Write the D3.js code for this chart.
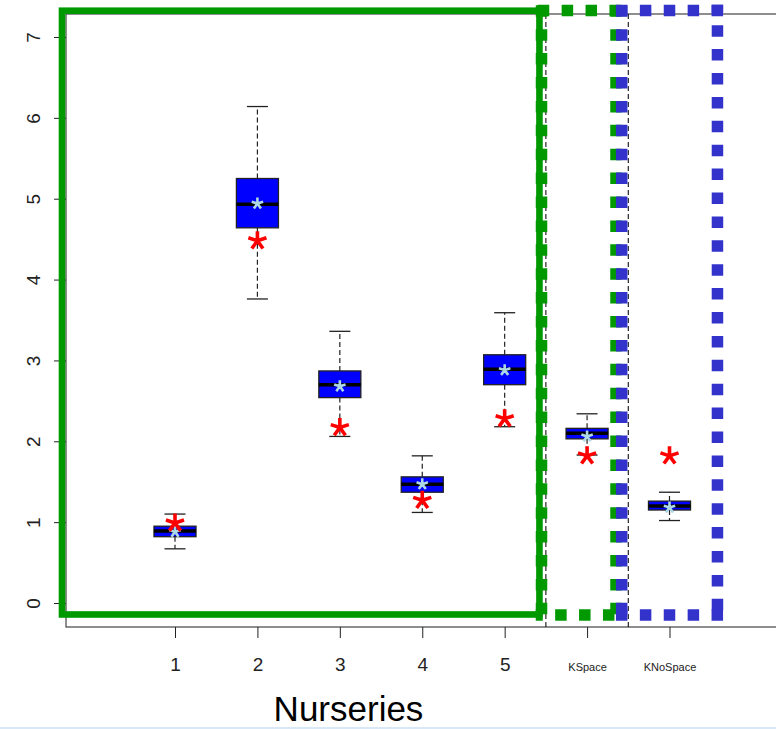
<!DOCTYPE html>
<html>
<head>
<meta charset="utf-8">
<script src="https://cdn.jsdelivr.net/npm/d3@7"></script>
<style>
	body { margin: 0; background: #fff; }
	svg { display: block; font-family: "Liberation Sans", Arial, sans-serif; }
</style>
</head>
<body>
<svg id="plot" width="776" height="729"></svg>
<script>

// values
const CATEGORIES = ['1', '2', '3', '4', '5', 'KSpace', 'KNoSpace'];
const WHISKER_LOW = [0.67, 3.76, 2.06, 1.12, 2.18, 1.83, 1.02];
const Q1 = [0.82, 4.64, 2.54, 1.37, 2.70, 2.03, 1.15];
const MEDIAN = [0.89, 4.93, 2.70, 1.47, 2.89, 2.10, 1.20];
const Q3 = [0.95, 5.25, 2.87, 1.56, 3.07, 2.16, 1.26];
const WHISKER_HIGH = [1.10, 6.14, 3.36, 1.82, 3.59, 2.34, 1.37];
const MEAN = [0.88, 4.94, 2.68, 1.47, 2.88, 2.06, 1.18];
const RED_POINT = [0.99, 4.48, 2.17, 1.27, 2.28, 1.82, 1.82];
const Y_TICKS = [0, 1, 2, 3, 4, 5, 6, 7];
const X_LABEL = 'Nurseries';

// group separators (between categories)
const SEPARATORS = [5.5, 6.5];

const PLOT = { left: 66, top: 14, bottom: 627, right: 800 };

const svg = d3.select('#plot');

const x = d3.scaleLinear().domain([1, 7]).range([175, 669.5]);
const y = d3.scaleLinear().domain([0, 7]).range([603, 37]);
const step = x(2) - x(1);
const boxW = step * 0.51;

const data = CATEGORIES.map((c, i) => ({
	name: c, pos: i + 1,
	lo: WHISKER_LOW[i], q1: Q1[i], med: MEDIAN[i], q3: Q3[i], hi: WHISKER_HIGH[i],
	mean: MEAN[i], red: RED_POINT[i]
}));

// frame
svg.append('rect')
	.attr('x', PLOT.left).attr('y', PLOT.top)
	.attr('width', PLOT.right - PLOT.left).attr('height', PLOT.bottom - PLOT.top)
	.attr('fill', 'none').attr('stroke', '#444').attr('stroke-width', 1.2);

// dashed separators
svg.append('g').selectAll('line')
	.data(SEPARATORS)
	.enter().append('line')
		.attr('x1', d => x(d)).attr('x2', d => x(d))
		.attr('y1', PLOT.top).attr('y2', PLOT.bottom)
		.attr('stroke', '#111').attr('stroke-width', 1.1)
		.attr('stroke-dasharray', '5 3');

// y axis
const yAxis = svg.append('g')
	.attr('transform', `translate(${PLOT.left},0)`)
	.call(d3.axisLeft(y).tickValues(Y_TICKS).tickSize(12).tickFormat(d3.format('d')));
yAxis.attr('font-size', 19).attr('font-family', null).attr('color', '#222');
yAxis.select('.domain').remove();
yAxis.selectAll('text')
	.attr('x', null).attr('dy', null)
	.attr('fill', '#222')
	.attr('text-anchor', 'middle')
	.attr('transform', 'translate(-26.5,0) rotate(-90)');

// x axis
const xAxis = svg.append('g')
	.attr('transform', `translate(0,${PLOT.bottom})`)
	.call(d3.axisBottom(x)
		.tickValues(d3.range(1, CATEGORIES.length + 1))
		.tickSize(11)
		.tickFormat(i => CATEGORIES[i - 1]));
xAxis.attr('font-family', null).attr('color', '#222');
xAxis.select('.domain').remove();
xAxis.selectAll('text')
	.attr('y', 44).attr('dy', null)
	.attr('fill', '#222')
	.attr('font-size', i => CATEGORIES[i - 1].length > 1 ? 11 : 19);

// boxes
const boxes = svg.append('g').selectAll('g')
	.data(data)
	.enter().append('g');

// whiskers (dashed)
boxes.append('line')
	.attr('x1', d => x(d.pos)).attr('x2', d => x(d.pos))
	.attr('y1', d => y(d.q3)).attr('y2', d => y(d.hi))
	.attr('stroke', '#222').attr('stroke-width', 1.2).attr('stroke-dasharray', '5 3');
boxes.append('line')
	.attr('x1', d => x(d.pos)).attr('x2', d => x(d.pos))
	.attr('y1', d => y(d.q1)).attr('y2', d => y(d.lo))
	.attr('stroke', '#222').attr('stroke-width', 1.2).attr('stroke-dasharray', '5 3');
// caps
['lo', 'hi'].forEach(k => {
	boxes.append('line')
		.attr('x1', d => x(d.pos) - boxW / 4).attr('x2', d => x(d.pos) + boxW / 4)
		.attr('y1', d => y(d[k])).attr('y2', d => y(d[k]))
		.attr('stroke', '#222').attr('stroke-width', 1.3);
});

boxes.append('rect')
	.attr('x', d => x(d.pos) - boxW / 2)
	.attr('y', d => y(d.q3))
	.attr('width', boxW)
	.attr('height', d => y(d.q1) - y(d.q3))
	.attr('fill', '#0000ff')
	.attr('stroke', '#222').attr('stroke-width', 1.3);

boxes.append('line')
	.attr('x1', d => x(d.pos) - boxW / 2).attr('x2', d => x(d.pos) + boxW / 2)
	.attr('y1', d => y(d.med)).attr('y2', d => y(d.med))
	.attr('stroke', '#000').attr('stroke-width', 3.5);

// 5-armed asterisk like the "*" glyph
const asterisk = {
	draw(ctx, size) {
		const r = Math.sqrt(size);
		for (let k = 0; k < 5; k++) {
			const a = -Math.PI / 2 + k * 2 * Math.PI / 5;
			ctx.moveTo(0, 0);
			ctx.lineTo(r * Math.cos(a), r * Math.sin(a));
		}
	}
};

boxes.append('path')
	.attr('d', d3.symbol().type(asterisk).size(6 * 6))
	.attr('transform', d => `translate(${x(d.pos)},${y(d.mean)})`)
	.attr('fill', 'none').attr('stroke', '#add8e6').attr('stroke-width', 2.6);

boxes.append('path')
	.attr('d', d3.symbol().type(asterisk).size(9.5 * 9.5))
	.attr('transform', d => `translate(${x(d.pos)},${y(d.red)})`)
	.attr('fill', 'none').attr('stroke', '#ff0000').attr('stroke-width', 3.6);

// highlight rectangles, extents in data units
const GREEN = '#009900';
const BLUE = '#3333cc';

svg.append('rect')
	.attr('x', x(-0.371)).attr('y', y(7.325))
	.attr('width', x(5.422) - x(-0.371))
	.attr('height', y(-0.142) - y(7.325))
	.attr('fill', 'none').attr('stroke', GREEN).attr('stroke-width', 6.6);

// dotted rects: each side drawn separately, phase = where the first square starts
const DOTTED = [
	{ x0: 5.447, x1: 6.351, y0: -0.148, y1: 7.327, color: GREEN,
		phase: { top: 2, bottom: -4.5, left: 0.5, right: 0.5 } },
	{ x0: 6.420, x1: 7.582, y0: -0.148, y1: 7.327, color: BLUE,
		phase: { top: 0, bottom: 0, left: 0.5, right: -3.5 } }
];
const SQ = 11.5;
DOTTED.forEach(r => {
	const l = x(r.x0), rt = x(r.x1), t = y(r.y1), b = y(r.y0);
	const sides = [
		{ k: 'top', x1: l - SQ / 2, x2: rt + SQ / 2, y1: t, y2: t },
		{ k: 'bottom', x1: l - SQ / 2, x2: rt + SQ / 2, y1: b, y2: b },
		{ k: 'left', x1: l, x2: l, y1: t - SQ / 2, y2: b + SQ / 2 },
		{ k: 'right', x1: rt, x2: rt, y1: t - SQ / 2, y2: b + SQ / 2 }
	];
	svg.append('g').selectAll('line')
		.data(sides)
		.enter().append('line')
			.attr('x1', d => d.x1).attr('x2', d => d.x2)
			.attr('y1', d => d.y1).attr('y2', d => d.y2)
			.attr('stroke', r.color).attr('stroke-width', SQ)
			.attr('stroke-dasharray', '11.5 12.4')
			.attr('stroke-dashoffset', d => -r.phase[d.k]);
});

// axis title
svg.append('text')
	.text(X_LABEL)
	.attr('x', 348.5).attr('y', 721)
	.attr('text-anchor', 'middle')
	.attr('font-size', 35)
	.attr('fill', '#000');

// faint window edge at the very bottom
svg.append('line')
	.attr('x1', 0).attr('x2', 776).attr('y1', 728).attr('y2', 728)
	.attr('stroke', '#d8e8f6').attr('stroke-width', 2);

</script>
</body>
</html>
